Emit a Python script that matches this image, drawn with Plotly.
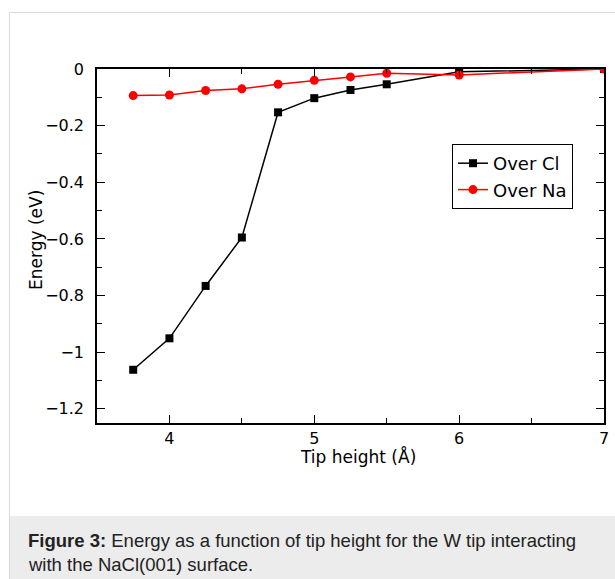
import plotly.graph_objects as go

# Data
tip_height = [3.75, 4.0, 4.25, 4.5, 4.75, 5.0, 5.25, 5.5, 6.0, 7.0]
over_cl = [-1.062, -0.951, -0.766, -0.595, -0.153, -0.103, -0.074, -0.054, -0.010, 0.0]
over_na = [-0.094, -0.092, -0.076, -0.070, -0.054, -0.040, -0.028, -0.015, -0.021, 0.0]

W, H = 615, 579
L, R, T, B = 97, 604, 69, 423  # plot area in pixels


def px(x):
    return (x - L) / (R - L)


def py(y):
    return (B - y) / (B - T)


fig = go.Figure()
fig.add_trace(go.Scatter(
    x=tip_height, y=over_cl, name="Over Cl", mode="lines+markers",
    line=dict(color="black", width=1.5),
    marker=dict(symbol="square", size=8, color="black"),
))
fig.add_trace(go.Scatter(
    x=tip_height, y=over_na, name="Over Na", mode="lines+markers",
    line=dict(color="#ff0000", width=1.5),
    marker=dict(symbol="circle", size=9, color="#ff0000"),
))

axis_font = dict(family="DejaVu Sans", size=16, color="black")
title_font = dict(family="DejaVu Sans", size=17, color="black")

fig.update_layout(
    width=W, height=H,
    margin=dict(l=L, r=W - R, t=T, b=H - B),
    paper_bgcolor="white", plot_bgcolor="white",
    font=axis_font,
    showlegend=True,
    legend=dict(
        x=px(452), y=py(144), xanchor="left", yanchor="top",
        bordercolor="black", borderwidth=1, bgcolor="white",
        font=dict(family="DejaVu Sans", size=18, color="black"),
        tracegroupgap=0, itemwidth=30,
    ),
    xaxis=dict(
        range=[3.5, 7], dtick=1, tick0=0, showgrid=False, zeroline=False,
        showline=True, linecolor="black", linewidth=1.5, mirror="ticks",
        ticks="inside", ticklen=8, tickwidth=1, tickcolor="black",
        minor=dict(ticks="inside", ticklen=5, dtick=0.5, tickcolor="black", showgrid=False),
        tickfont=axis_font, automargin=False,
    ),
    yaxis=dict(
        range=[-1.25, 0], dtick=0.2, tick0=0, showgrid=False, zeroline=False,
        showline=True, linecolor="black", linewidth=1.5, mirror="ticks",
        ticks="inside", ticklen=8, tickwidth=1, tickcolor="black",
        minor=dict(ticks="inside", ticklen=5, dtick=0.1, tickcolor="black", showgrid=False),
        tickfont=axis_font, ticklabelstandoff=8, automargin=False,
    ),
)

# Axis titles
fig.add_annotation(xref="paper", yref="paper", x=px(358), y=py(456),
                   xanchor="center", yanchor="middle", showarrow=False,
                   text="Tip height (Å)", font=title_font)
fig.add_annotation(xref="paper", yref="paper", x=px(36), y=py(240),
                   xanchor="center", yanchor="middle", showarrow=False, textangle=-90,
                   text="Energy (eV)", font=title_font)

# Container border and caption background
fig.add_shape(type="rect", xref="paper", yref="paper",
              x0=px(9.5), x1=px(640), y0=py(600), y1=py(12.5),
              line=dict(color="#d9d9d9", width=1), fillcolor="rgba(0,0,0,0)", layer="below")
fig.add_shape(type="rect", xref="paper", yref="paper",
              x0=px(10), x1=px(640), y0=py(600), y1=py(516),
              line=dict(width=0), fillcolor="#ececec", layer="below")

cap_font = dict(family="Liberation Sans", size=18.5, color="#222222")
fig.add_annotation(xref="paper", yref="paper", x=px(26), y=py(540),
                   xanchor="left", yanchor="middle", showarrow=False, align="left",
                   text="<b>Figure 3:</b> Energy as a function of tip height for the W tip interacting",
                   font=cap_font)
fig.add_annotation(xref="paper", yref="paper", x=px(26), y=py(564),
                   xanchor="left", yanchor="middle", showarrow=False, align="left",
                   text="with the NaCl(001) surface.", font=cap_font)

fig.write_html("out.html")
